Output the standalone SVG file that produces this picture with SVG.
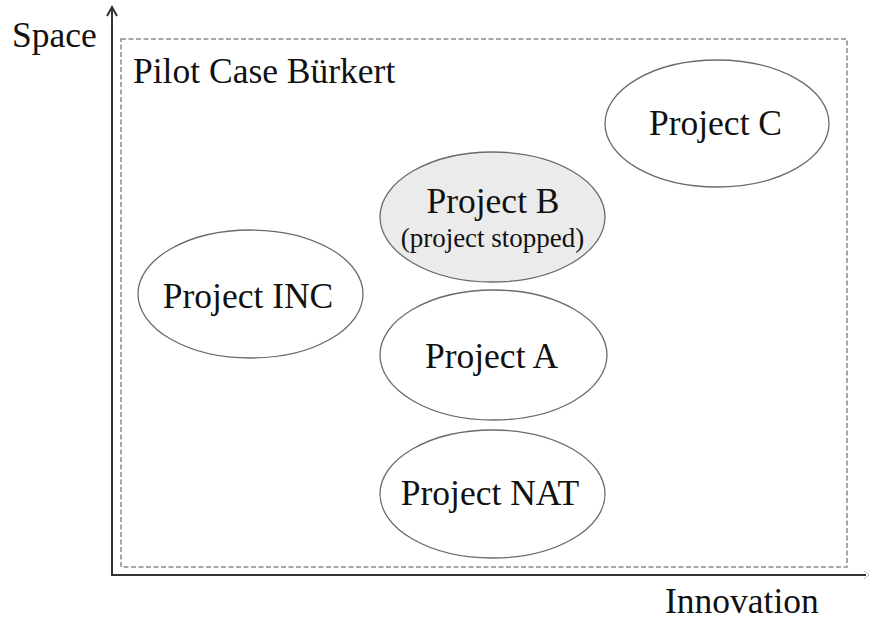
<svg xmlns="http://www.w3.org/2000/svg" width="871" height="622" viewBox="0 0 871 622">
<style>
text{fill:#111;}
.big{font-size:35.5px;}
.small{font-size:27px;}
.node{stroke:#6a6a6a;stroke-width:1.3;fill:#fff;}
.stopped{fill:#ebebeb;}
.axis{stroke:#333;stroke-width:2;fill:none;}
</style>
<rect x="0" y="0" width="871" height="622" fill="#fff"/>
<g font-family="Liberation Serif, serif">
<g id="frame">
<rect x="121" y="39" width="726" height="528" fill="none" stroke="#8a8a8a" stroke-width="1.5" stroke-dasharray="5 2.5"/>
<text class="big" x="133" y="83">Pilot Case Bürkert</text>
</g>
<g id="axes" class="connectors">
<line class="axis" x1="112" y1="576" x2="112" y2="8"/>
<polyline class="axis" points="107,16 112,7 117,16" stroke-width="1.6"/>
<line class="axis" x1="111" y1="575" x2="866" y2="575"/>
<polyline points="864,571 869,575 864,579" fill="none" stroke="#bbb" stroke-width="1"/>
<text class="big" x="12" y="47">Space</text>
<text class="big" x="665" y="613">Innovation</text>
</g>
<g id="projectC">
<ellipse class="node" cx="717" cy="123.5" rx="112" ry="63.5"/>
<text class="big" x="715.5" y="135" text-anchor="middle">Project C</text>
</g>
<g id="projectB">
<ellipse class="node stopped" cx="492.5" cy="217" rx="112.5" ry="65"/>
<text class="big" x="493" y="213" text-anchor="middle">Project B</text>
<text class="small" x="492.5" y="247" text-anchor="middle">(project stopped)</text>
</g>
<g id="projectINC">
<ellipse class="node" cx="250.5" cy="294" rx="112.5" ry="64"/>
<text class="big" x="248" y="308" text-anchor="middle">Project INC</text>
</g>
<g id="projectA">
<ellipse class="node" cx="493.5" cy="355" rx="113.5" ry="65"/>
<text class="big" x="491.5" y="368" text-anchor="middle">Project A</text>
</g>
<g id="projectNAT">
<ellipse class="node" cx="492.5" cy="494" rx="112.5" ry="64"/>
<text class="big" x="490" y="505" text-anchor="middle">Project NAT</text>
</g>
</g>
</svg>
